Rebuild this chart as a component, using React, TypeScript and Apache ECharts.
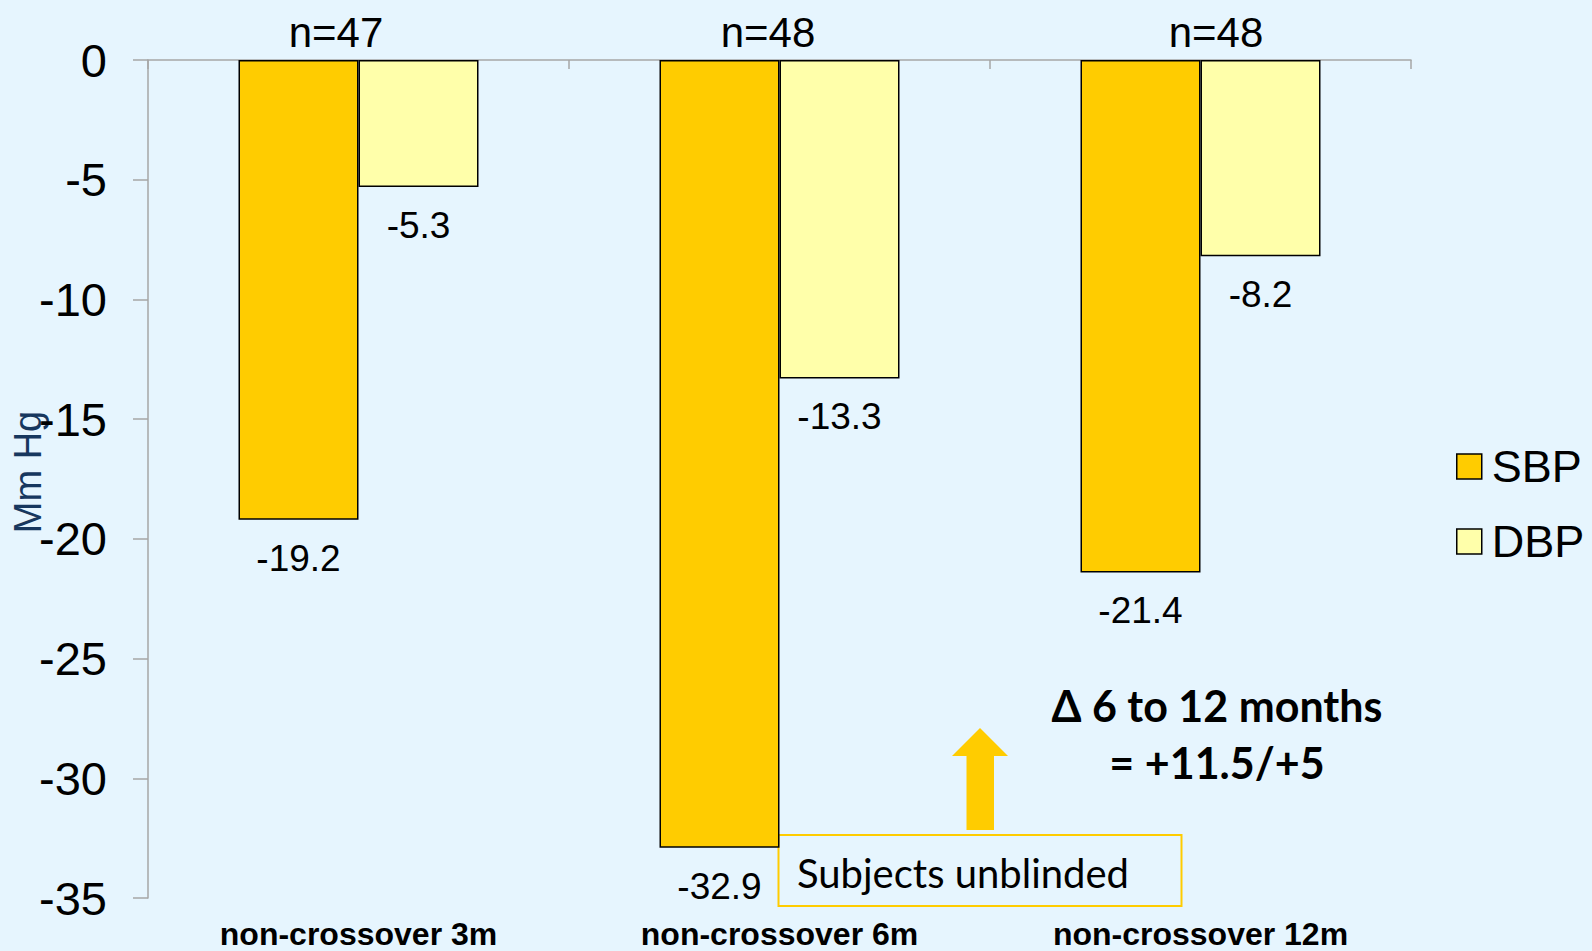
import React, { useEffect, useRef } from "react";
import * as echarts from "echarts";

// Change in blood pressure (mm Hg) by follow-up visit
const categories = ["non-crossover 3m", "non-crossover 6m", "non-crossover 12m"];
const sampleSizes = ["n=47", "n=48", "n=48"];
const sbpChange = [-19.2, -32.9, -21.4];
const dbpChange = [-5.3, -13.3, -8.2];
const yMin = -35;
const yMax = 0;
const yStep = 5;

const ARIAL = "'Liberation Sans', Arial, Helvetica, sans-serif";
const CALIBRI = "Lato, 'Open Sans', 'Noto Sans', sans-serif";

// Horizontal centres of the sample-size captions above the plot
const sampleSizeX = [336, 768, 1216];

export default function App() {
  const ref = useRef<HTMLDivElement>(null);

  useEffect(() => {
    if (!ref.current) return;
    document.body.style.margin = "0";
    const chart = echarts.init(ref.current, undefined, { renderer: "svg" });

    const barLabel = {
      show: true,
      position: "bottom",
      distance: 20,
      color: "#000",
      fontFamily: ARIAL,
      fontSize: 37,
      lineHeight: 37,
    };

    chart.setOption({
      animation: false,
      backgroundColor: "#E6F5FE",
      grid: {
        left: 148,
        top: 60,
        width: 1263,
        height: 838,
        containLabel: false,
        outerBoundsMode: "none",
      },
      legend: {
        data: ["SBP", "DBP"],
        orient: "vertical",
        left: 1456,
        top: 444,
        padding: 0,
        icon: "rect",
        itemWidth: 25,
        itemHeight: 25,
        itemGap: 30,
        itemStyle: { borderColor: "#000", borderWidth: 1.5 },
        textStyle: {
          color: "#000",
          fontFamily: ARIAL,
          fontSize: 45,
          lineHeight: 44,
          padding: [0, 0, 0, 5],
        },
      },
      xAxis: [
        {
          type: "category",
          position: "top",
          data: categories,
          axisLine: { show: true, onZero: false, lineStyle: { color: "#A6A6A6", width: 1.5 } },
          axisTick: { show: true, inside: true, length: 9, lineStyle: { color: "#A6A6A6", width: 1.5 } },
          axisLabel: { show: false },
          splitLine: { show: false },
        },
        {
          type: "category",
          position: "bottom",
          data: categories,
          axisLine: { show: false, onZero: false },
          axisTick: { show: false },
          axisLabel: {
            interval: 0,
            color: "#000",
            fontFamily: ARIAL,
            fontWeight: "bold",
            fontSize: 32,
            lineHeight: 32,
            margin: 20,
          },
          splitLine: { show: false },
        },
      ],
      yAxis: {
        type: "value",
        min: yMin,
        max: yMax,
        interval: yStep,
        axisLine: { show: true, lineStyle: { color: "#A6A6A6", width: 1.5 } },
        axisTick: { show: true, length: 15, lineStyle: { color: "#A6A6A6", width: 1.5 } },
        axisLabel: {
          color: "#000",
          fontFamily: ARIAL,
          fontSize: 47,
          margin: 41,
        },
        splitLine: { show: false },
      },
      series: [
        {
          name: "SBP",
          type: "bar",
          xAxisIndex: 0,
          data: sbpChange,
          barWidth: 120,
          barGap: "0%",
          itemStyle: { color: "#FFCC00", borderColor: "#000", borderWidth: 1.5 },
          label: barLabel,
        },
        {
          name: "DBP",
          type: "bar",
          xAxisIndex: 0,
          data: dbpChange,
          barWidth: 120,
          barGap: "0%",
          itemStyle: { color: "#FFFFAA", borderColor: "#000", borderWidth: 1.5 },
          label: barLabel,
        },
      ],
      graphic: [
        ...sampleSizes.map((t, i) => ({
          type: "text",
          x: sampleSizeX[i],
          y: 32,
          style: {
            text: t,
            fill: "#000",
            font: `42px ${ARIAL}`,
            align: "center",
            verticalAlign: "middle",
          },
        })),
        {
          type: "text",
          x: 28,
          y: 472,
          rotation: Math.PI / 2,
          style: {
            text: "Mm Hg",
            fill: "#17375E",
            font: `38px ${ARIAL}`,
            align: "center",
            verticalAlign: "middle",
          },
        },
        {
          type: "polygon",
          shape: {
            points: [
              [980, 728],
              [1008, 756],
              [994, 756],
              [994, 830],
              [966.5, 830],
              [966.5, 756],
              [952, 756],
            ],
          },
          style: { fill: "#FFCC00" },
        },
        {
          type: "rect",
          shape: { x: 778.5, y: 835, width: 403, height: 71 },
          style: { fill: "none", stroke: "#FFCC00", lineWidth: 2 },
        },
        {
          type: "text",
          x: 797,
          y: 873,
          style: {
            text: "Subjects unblinded",
            fill: "#000",
            font: `40px ${CALIBRI}`,
            align: "left",
            verticalAlign: "middle",
          },
        },
        {
          type: "text",
          x: 1217,
          y: 705,
          style: {
            text: "\u0394 6 to 12 months",
            fill: "#000",
            font: `bold 43px ${CALIBRI}`,
            align: "center",
            verticalAlign: "middle",
          },
        },
        {
          type: "text",
          x: 1217,
          y: 762,
          style: {
            text: "= +11.5/+5",
            fill: "#000",
            font: `bold 43px ${CALIBRI}`,
            align: "center",
            verticalAlign: "middle",
          },
        },
      ],
    });

    return () => chart.dispose();
  }, []);

  return (
    <div
      ref={ref}
      style={{ position: "fixed", left: 0, top: 0, width: 1592, height: 951 }}
    />
  );
}
